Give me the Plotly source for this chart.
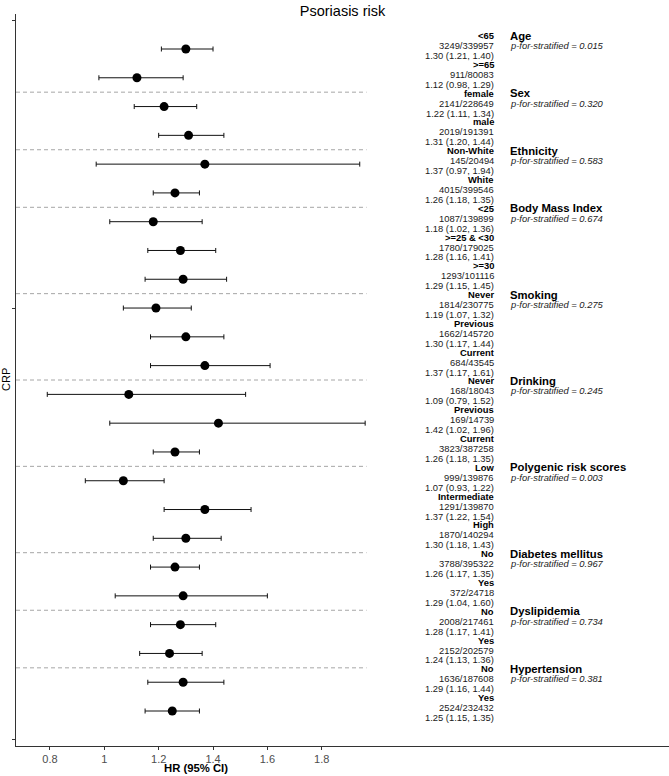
import plotly.graph_objects as go

title = "Psoriasis risk"
y_title = "CRP"
x_title = "HR (95% CI)"

groups = ["Age", "Sex", "Ethnicity", "Body Mass Index", "Smoking", "Drinking",
          "Polygenic risk scores", "Diabetes mellitus", "Dyslipidemia", "Hypertension"]
group_sizes = [2, 2, 2, 3, 3, 3, 3, 2, 2, 2]
p_values = ["0.015", "0.320", "0.583", "0.674", "0.275", "0.245", "0.003", "0.967", "0.734", "0.381"]

subgroups = ["<65", ">=65", "female", "male", "Non-White", "White",
             "<25", ">=25 & <30", ">=30", "Never", "Previous", "Current",
             "Never", "Previous", "Current", "Low", "Intermediate", "High",
             "No", "Yes", "No", "Yes", "No", "Yes"]
cases = ["3249/339957", "911/80083", "2141/228649", "2019/191391", "145/20494", "4015/399546",
         "1087/139899", "1780/179025", "1293/101116", "1814/230775", "1662/145720", "684/43545",
         "168/18043", "169/14739", "3823/387258", "999/139876", "1291/139870", "1870/140294",
         "3788/395322", "372/24718", "2008/217461", "2152/202579", "1636/187608", "2524/232432"]
hr = [1.30, 1.12, 1.22, 1.31, 1.37, 1.26, 1.18, 1.28, 1.29, 1.19, 1.30, 1.37,
      1.09, 1.42, 1.26, 1.07, 1.37, 1.30, 1.26, 1.29, 1.28, 1.24, 1.29, 1.25]
lower = [1.21, 0.98, 1.11, 1.20, 0.97, 1.18, 1.02, 1.16, 1.15, 1.07, 1.17, 1.17,
         0.79, 1.02, 1.18, 0.93, 1.22, 1.18, 1.17, 1.04, 1.17, 1.13, 1.16, 1.15]
upper = [1.40, 1.29, 1.34, 1.44, 1.94, 1.35, 1.36, 1.41, 1.45, 1.32, 1.44, 1.61,
         1.52, 1.96, 1.35, 1.22, 1.54, 1.43, 1.35, 1.60, 1.41, 1.36, 1.44, 1.35]

x_ticks = [0.8, 1.0, 1.2, 1.4, 1.6, 1.8]
x_tick_labels = ["0.8", "1", "1.2", "1.4", "1.6", "1.8"]

n = len(hr)
ypos = [n - i for i in range(n)]

FONT = "Liberation Sans, Arial, Helvetica, sans-serif"
TXT = "#1a1a1a"


def esc(s):
    return s.replace("&", "&amp;").replace("<", "&lt;").replace(">", "&gt;")


fig = go.Figure()
fig.add_trace(go.Scatter(
    x=hr, y=ypos, mode="markers",
    marker=dict(color="black", size=9),
    error_x=dict(type="data", symmetric=False,
                 array=[u - h for u, h in zip(upper, hr)],
                 arrayminus=[h - l for h, l in zip(hr, lower)],
                 color="#111111", thickness=1, width=2.5),
    showlegend=False, hoverinfo="skip",
))

x_range = [0.6749, 3.0782]
y_range = [-0.216, n + 1.216]

TEXT_X = 2.4323
GROUP_X = 2.493
OFF_LABEL = 0.466
OFF_COUNT = 0.118
OFF_HR = -0.226
SMALL = 9.4

ann = []
for i in range(n):
    y = ypos[i]
    ann.append(dict(x=TEXT_X, y=y + OFF_LABEL, text="<b>" + esc(subgroups[i]) + "</b>",
                    font=dict(size=SMALL, color="black", family=FONT)))
    ann.append(dict(x=TEXT_X, y=y + OFF_COUNT, text=cases[i],
                    font=dict(size=SMALL, color=TXT, family=FONT)))
    ann.append(dict(x=TEXT_X, y=y + OFF_HR,
                    text=f"{hr[i]:.2f} ({lower[i]:.2f}, {upper[i]:.2f})",
                    font=dict(size=SMALL, color=TXT, family=FONT)))
for a in ann:
    a.update(xref="x", yref="y", xanchor="right", yanchor="middle",
             showarrow=False, borderpad=0, borderwidth=0)

shapes = []
start = 0
sep_end = max(upper) + 0.005
for g, size, p in zip(groups, group_sizes, p_values):
    y0 = ypos[start]
    ann.append(dict(x=GROUP_X, y=y0 + OFF_LABEL, text="<b>" + g + "</b>",
                    xref="x", yref="y", xanchor="left", yanchor="middle",
                    showarrow=False, borderpad=0, borderwidth=0,
                    font=dict(size=11.3, color="black", family=FONT)))
    ann.append(dict(x=GROUP_X, y=y0 + OFF_COUNT, text="<i>p-for-stratified = " + p + "</i>",
                    xref="x", yref="y", xanchor="left", yanchor="middle",
                    showarrow=False, borderpad=0, borderwidth=0,
                    font=dict(size=SMALL, color=TXT, family=FONT)))
    start += size
    if start < n:
        yb = (ypos[start - 1] + ypos[start]) / 2
        shapes.append(dict(type="line", xref="x", yref="y", x0=x_range[0], x1=sep_end,
                           y0=yb, y1=yb, line=dict(color="#a6a6a6", width=1, dash="4px,3px")))

# axis titles
ann.append(dict(x=1.3374, y=-0.0301, xref="x", yref="paper", text="<b>" + x_title + "</b>",
                showarrow=False, xanchor="center", yanchor="middle",
                font=dict(size=11.3, color="black", family=FONT)))
ann.append(dict(x=-0.0153, y=0.5, xref="paper", yref="paper", text=y_title, textangle=-90,
                showarrow=False, xanchor="center", yanchor="middle",
                font=dict(size=11, color="black", family=FONT)))

fig.update_layout(
    width=669, height=776,
    margin=dict(l=16, r=0, t=14, b=30),
    paper_bgcolor="white", plot_bgcolor="white",
    title=dict(text=title, x=342.5 / 669, xanchor="center", y=1 - 11 / 776, yanchor="middle",
               font=dict(size=14.5, color="black", family=FONT)),
    font=dict(family=FONT),
    xaxis=dict(range=x_range, showgrid=False, zeroline=False, showline=True,
               linecolor="#333333", linewidth=1, ticks="outside", ticklen=3, tickcolor="#333333",
               tickvals=x_ticks, ticktext=x_tick_labels,
               tickfont=dict(size=11, color="#4d4d4d", family=FONT)),
    yaxis=dict(range=y_range, showgrid=False, zeroline=False, showline=True,
               linecolor="#333333", linewidth=1, ticks="outside", ticklen=3, tickcolor="#333333",
               tickvals=[0, 15, 25], showticklabels=False),
    annotations=ann, shapes=shapes,
)

fig.write_html("out.html", config={"displayModeBar": False, "staticPlot": True},
               post_script="document.body.style.margin='0';document.body.style.padding='0';"
                           "document.body.style.overflow='hidden';")
